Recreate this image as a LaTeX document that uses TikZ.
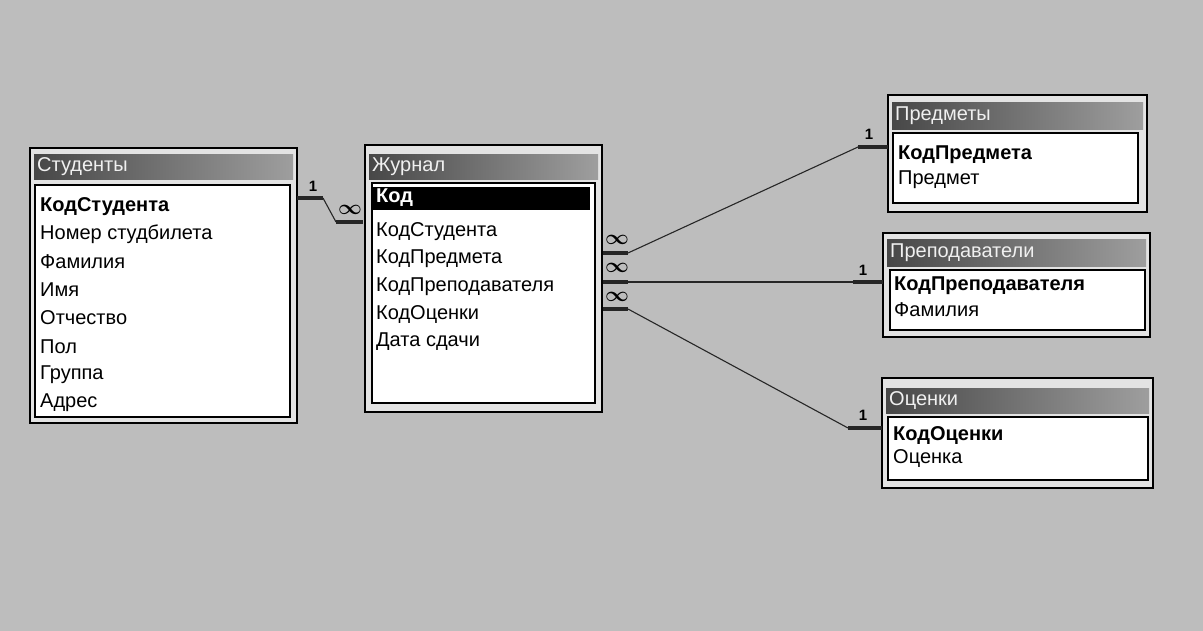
\documentclass[tikz,border=0pt]{standalone}
\usepackage{fontspec}
\setmainfont{Liberation Sans}
\begin{document}
\begin{tikzpicture}[x=1pt,y=-1pt,
  frame/.style={draw=black,line width=1.6pt,fill=gray!22},
  titlebar/.style={left color=black!72,right color=black!38,draw=none},
  titletext/.style={anchor=west,inner sep=0pt,text=gray!12,font=\fontsize{20}{22}\selectfont},
  listbox/.style={draw=black,line width=1.2pt,fill=white},
  field/.style={anchor=west,inner sep=0pt,font=\fontsize{20}{22}\selectfont},
  keyfield/.style={field,font=\fontsize{20}{22}\selectfont\bfseries},
  rel/.style={line width=1.1pt,black!85},
  relend/.style={line width=3.5pt,black!85},
  card/.style={inner sep=0pt,font=\fontsize{15}{16}\selectfont\bfseries},
  many/.style={inner sep=0pt,font=\fontsize{22}{22}\selectfont\boldmath}
]
\fill[gray!52] (0,0) rectangle (1203,631);
\useasboundingbox (0,0) rectangle (1203,631);

% ---------- Студенты ----------
\filldraw[frame] (30,148) rectangle (297,423);
\fill[titlebar] (34,155) rectangle (293,180);
\node[titletext] (stT) at (37,167) {Студенты};
\draw[listbox] (35,185) rectangle (290,417);
\node[keyfield] (st1) at (40,207) {КодСтудента};
\node[field] (st2) at (40,234) {Номер студбилета};
\node[field] (st3) at (40,262) {Фамилия};
\node[field] (st4) at (40,290) {Имя};
\node[field] (st5) at (40,318) {Отчество};
\node[field] (st6) at (40,347) {Пол};
\node[field] (st7) at (40,375) {Группа};
\node[field] (st8) at (40,403) {Адрес};

% ---------- Журнал ----------
\filldraw[frame] (365,145) rectangle (602,412);
\fill[titlebar] (369,155) rectangle (598,180);
\node[titletext] (jT) at (372,167) {Журнал};
\draw[listbox] (372,183) rectangle (595,403);
\fill[black] (373,187) rectangle (590,210);
\node[keyfield,text=white] (j1) at (376,198) {Код};
\node[field] (j2) at (376,232) {КодСтудента};
\node[field] (j3) at (376,259) {КодПредмета};
\node[field] (j4) at (376,287) {КодПреподавателя};
\node[field] (j5) at (376,315) {КодОценки};
\node[field] (j6) at (376,342) {Дата сдачи};

% ---------- Предметы ----------
\filldraw[frame] (888,95) rectangle (1147,212);
\fill[titlebar] (892,103) rectangle (1143,130);
\node[titletext] (pT) at (895,116) {Предметы};
\draw[listbox] (893,133) rectangle (1138,203);
\node[keyfield] (p1) at (898,155) {КодПредмета};
\node[field] (p2) at (898,180) {Предмет};

% ---------- Преподаватели ----------
\filldraw[frame] (883,233) rectangle (1150,337);
\fill[titlebar] (887,240) rectangle (1146,267);
\node[titletext] (tT) at (890,253) {Преподаватели};
\draw[listbox] (890,270) rectangle (1145,330);
\node[keyfield] (t1) at (894,286) {КодПреподавателя};
\node[field] (t2) at (894,310) {Фамилия};

% ---------- Оценки ----------
\filldraw[frame] (882,378) rectangle (1153,488);
\fill[titlebar] (886,388) rectangle (1149,413);
\node[titletext] (oT) at (889,401) {Оценки};
\draw[listbox] (888,417) rectangle (1148,480);
\node[keyfield] (o1) at (893,436) {КодОценки};
\node[field] (o2) at (893,459) {Оценка};

% ---------- connectors ----------
\coordinate (a0) at (297,198);
\coordinate (a1) at (323,198);
\coordinate (a2) at (336,222);
\coordinate (a3) at (363,222);
\draw[relend] (a0) -- (a1);
\draw[rel] (a1) -- (a2);
\draw[relend] (a2) -- (a3);
\node[card] (c1) at (313,186) {1};
\node[many] (c2) at (350,210) {$\infty$};

\coordinate (b0) at (603,253);
\coordinate (b1) at (628,253);
\coordinate (b2) at (858,147);
\coordinate (b3) at (888,147);
\draw[relend] (b0) -- (b1);
\draw[rel] (b1) -- (b2);
\draw[relend] (b2) -- (b3);
\node[many] (c3) at (617,240) {$\infty$};
\node[card] (c4) at (869,134) {1};

\coordinate (d0) at (603,282);
\coordinate (d1) at (628,282);
\coordinate (d2) at (853,282);
\coordinate (d3) at (883,282);
\draw[relend] (d0) -- (d1);
\draw[rel] (d1) -- (d2);
\draw[relend] (d2) -- (d3);
\node[many] (c5) at (617,268) {$\infty$};
\node[card] (c6) at (863,270) {1};

\coordinate (e0) at (603,309);
\coordinate (e1) at (628,309);
\coordinate (e2) at (848,428);
\coordinate (e3) at (882,428);
\draw[relend] (e0) -- (e1);
\draw[rel] (e1) -- (e2);
\draw[relend] (e2) -- (e3);
\node[many] (c7) at (617,297) {$\infty$};
\node[card] (c8) at (863,415) {1};
\end{tikzpicture}
\end{document}
